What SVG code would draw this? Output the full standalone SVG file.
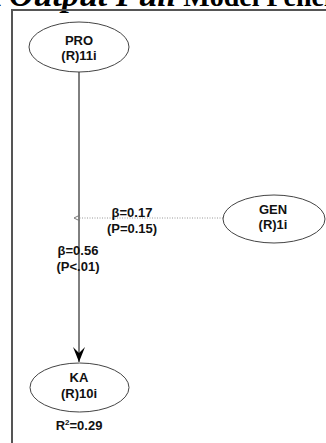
<svg xmlns="http://www.w3.org/2000/svg" width="326" height="443" viewBox="0 0 326 443">
<style>
.node ellipse{fill:#fff;stroke:#444;stroke-width:1}
.lbl{font-family:"Liberation Sans",Arial,sans-serif;font-weight:bold;font-size:13px;fill:#111;text-anchor:middle}
.title{font-family:"Liberation Serif","Times New Roman",serif;font-weight:bold;font-size:28px;fill:#000}
</style>
<defs>
<marker id="ah" markerWidth="16" markerHeight="12" refX="15" refY="6" orient="auto" markerUnits="userSpaceOnUse" viewBox="0 0 16 12">
<path d="M0,0 L15,6 L0,12 L6,6 Z" fill="#000"/>
</marker>
<marker id="oh" markerWidth="8" markerHeight="8" refX="1" refY="4" orient="auto" markerUnits="userSpaceOnUse" viewBox="0 0 8 8">
<path d="M7,1 L1,4 L7,7" fill="none" stroke="#777" stroke-width="1" transform="rotate(180 4 4)"/>
</marker>
</defs>
<rect width="326" height="443" fill="#fff"/>
<text class="title" x="-12" y="6">1 <tspan font-style="italic" font-size="34">Output Full</tspan> Model Penelitian</text>
<path d="M12,443 L12,10 L326,10" fill="none" stroke="#555" stroke-width="2"/>
<g id="connectors">
<line x1="79" y1="72" x2="79" y2="362" stroke="#000" stroke-width="1" marker-end="url(#ah)"/>
<line x1="223" y1="218" x2="80" y2="218" stroke="#999" stroke-width="1" stroke-dasharray="1,1.5" marker-end="url(#oh)"/>
<text class="lbl" x="132" y="217">β=0.17</text>
<text class="lbl" x="132" y="233">(P=0.15)</text>
<text class="lbl" x="78" y="255">β=0.56</text>
<text class="lbl" x="78" y="271">(P&lt;.01)</text>
</g>
<g id="PRO" class="node">
<ellipse cx="79" cy="47" rx="50" ry="25"/>
<text class="lbl" x="79" y="45">PRO</text>
<text class="lbl" x="79" y="60">(R)11i</text>
</g>
<g id="GEN" class="node">
<ellipse cx="274" cy="219" rx="51" ry="24"/>
<text class="lbl" x="273" y="214">GEN</text>
<text class="lbl" x="273" y="229">(R)1i</text>
</g>
<g id="KA" class="node">
<ellipse cx="79.5" cy="387.5" rx="49.5" ry="24.5"/>
<text class="lbl" x="79" y="382">KA</text>
<text class="lbl" x="79" y="398">(R)10i</text>
<text class="lbl" x="79" y="430">R<tspan dy="-5" font-size="8">2</tspan><tspan dy="5">=0.29</tspan></text>
</g>
</svg>
